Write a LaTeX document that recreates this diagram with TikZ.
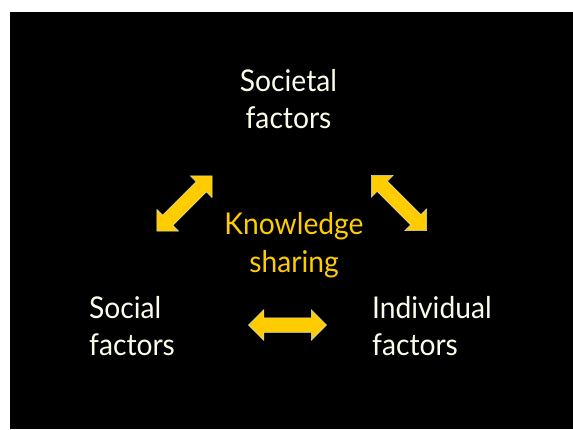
\documentclass[tikz,border=0pt]{standalone}
\usepackage{fontspec}
\setmainfont{Lato}[FakeStretch=0.94]
\usetikzlibrary{shapes.arrows}
\definecolor{gold}{RGB}{255,204,0}
\definecolor{cream}{RGB}{252,252,234}
\begin{document}
\begin{tikzpicture}[x=1pt,y=-1pt,
  lbl/.style={text=cream, font=\fontsize{30}{37}\selectfont, inner sep=0pt},
  ks/.style={text=gold, font=\fontsize{30}{38}\selectfont, inner sep=0pt, align=center},
  dbl/.style={double arrow, double arrow tip angle=90, double arrow head extend=8pt,
    minimum height=78pt, inner xsep=0pt, inner ysep=7pt, fill=gold,
    draw=cream!75!gray, line width=0.5pt}]
\fill[white] (0,0) rectangle (573,429);
\fill[black] (10,12) rectangle (573,429);
\node[lbl, align=center, anchor=base] (soc) at (288.5,128) {Societal\\factors};
\node[lbl, align=left, anchor=base west] (sol) at (89,355) {Social\\factors};
\node[lbl, align=left, anchor=base west] (ind) at (372,355) {Individual\\factors};
\node[ks, anchor=base] (ks) at (294,272) {Knowledge\\sharing};
\node[dbl, rotate=45] (a1) at (184.5,203.5) {};
\node[dbl, rotate=-45] (a2) at (399,203) {};
\node[dbl] (a3) at (287.5,325) {};
\end{tikzpicture}
\end{document}
